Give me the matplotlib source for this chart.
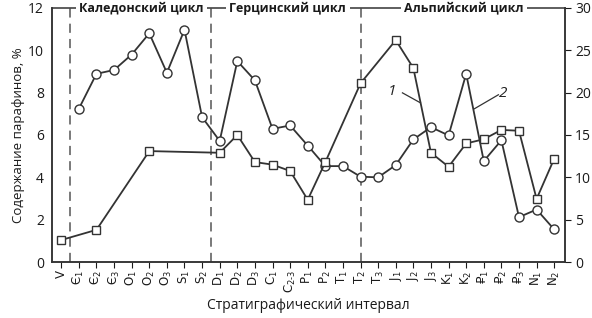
import matplotlib
matplotlib.use('Agg')
import matplotlib.pyplot as plt
import numpy as np

plt.rcParams['font.family'] = ['Open Sans', 'DejaVu Sans']
plt.rcParams['mathtext.fontset'] = 'dejavusans'

# стратиграфические интервалы (ось X)
intervals = ['V', 'Є$_1$', 'Є$_2$', 'Є$_3$', 'O$_1$', 'O$_2$', 'O$_3$', 'S$_1$', 'S$_2$',
             'D$_1$', 'D$_2$', 'D$_3$', 'C$_1$', r'C$_{2\text{-}3}$', 'P$_1$', 'P$_2$',
             'T$_1$', 'T$_2$', 'T$_3$', 'J$_1$', 'J$_2$', 'J$_3$', 'K$_1$', 'K$_2$',
             '₽$_1$', '₽$_2$', '₽$_3$', 'N$_1$', 'N$_2$']

# кривая 2 - кружки, левая ось (содержание парафинов, %)
idx2 = [1, 2, 3, 4, 5, 6, 7, 8, 9, 10, 11, 12, 13, 14, 15, 16, 17, 18,
        19, 20, 21, 22, 23, 24, 25, 26, 27, 28]
val2 = [7.24, 8.89, 9.07, 9.8, 10.8, 8.94, 10.97, 6.84, 5.72, 9.49, 8.58, 6.29, 6.45, 5.5,
        4.53, 4.53, 4.03, 4.0, 4.58, 5.79, 6.37, 5.98, 8.89, 4.77, 5.75, 2.12, 2.48, 1.54]

# кривая 1 - квадраты, правая ось
idx1 = [0, 2, 5, 9, 10, 11, 12, 13, 14, 15, 17, 19, 20, 21, 22, 23, 24, 25, 26, 27, 28]
val1 = [2.6, 3.8, 13.1, 12.9, 15.0, 11.8, 11.5, 10.75, 7.35, 11.8, 21.1, 26.2, 22.9,
        12.9, 11.25, 14.0, 14.5, 15.6, 15.5, 7.45, 12.2]

# границы циклов
bounds = [0.5, 8.5, 17]
cycles = ['Каледонский цикл', 'Герцинский цикл', 'Альпийский цикл']
cycle_pos = [4.55, 12.87, 22.87]

fig = plt.figure(figsize=(5.92, 3.18), dpi=100)
ax = fig.add_axes([0.088, 0.176, 0.866, 0.799])
ax2 = ax.twinx()

xmin, xmax = -0.52, 28.6
ax.set_xlim(xmin, xmax)
ax.set_ylim(0, 12)
ax2.set_ylim(0, 30)

for b in bounds:
    ax.plot([b, b], [0, 12], color='#555555', lw=1.1, ls=(0, (6, 4)), zorder=1)

ax.plot([xmin, xmax], [12, 12], color='#333333', lw=1.1, clip_on=False, zorder=2)
for t, p in zip(cycles, cycle_pos):
    ax.text(p, 12, t, ha='center', va='center', fontsize=9, fontweight='bold',
            color='#1a1a1a', zorder=3,
            bbox=dict(facecolor='white', edgecolor='none', pad=2.5))

ax.plot(idx2, val2, color='#333333', lw=1.3, marker='o', ms=6.5,
        mfc='white', mec='#333333', mew=1.0, zorder=4, clip_on=False)
ax2.plot(idx1, val1, color='#333333', lw=1.3, marker='s', ms=6,
         mfc='white', mec='#333333', mew=1.0, zorder=4, clip_on=False)

# подписи кривых
ax.text(18.8, 8.04, '1', fontsize=11, style='italic', ha='center', va='center', color='#222222')
ax.plot([19.38, 20.4], [7.99, 7.52], color='#333333', lw=0.9)
ax.text(25.1, 7.94, '2', fontsize=11, style='italic', ha='center', va='center', color='#222222')
ax.plot([24.83, 23.47], [7.9, 7.24], color='#333333', lw=0.9)

ax.set_xticks(range(len(intervals)))
ax.set_xticklabels(intervals, rotation=90, fontsize=8.5, family=['DejaVu Sans'])
ax.set_yticks(range(0, 13, 2))
ax2.set_yticks(range(0, 31, 5))
ax.tick_params(axis='y', length=0, labelsize=10, pad=6, colors='#1a1a1a')
ax.tick_params(axis='x', length=4, direction='out', pad=2, colors='#1a1a1a')
ax2.tick_params(axis='y', length=4, direction='out', labelsize=10, colors='#1a1a1a')

for a in (ax, ax2):
    a.spines['top'].set_visible(False)
    for s in ('left', 'right', 'bottom'):
        a.spines[s].set_color('#333333')
        a.spines[s].set_linewidth(1.1)

ax.set_ylabel('Содержание парафинов, %', fontsize=9.5, color='#1a1a1a', labelpad=2)
ax.set_xlabel('Стратиграфический интервал', fontsize=10, color='#1a1a1a', labelpad=3)

fig.savefig('out.png', dpi=100)
